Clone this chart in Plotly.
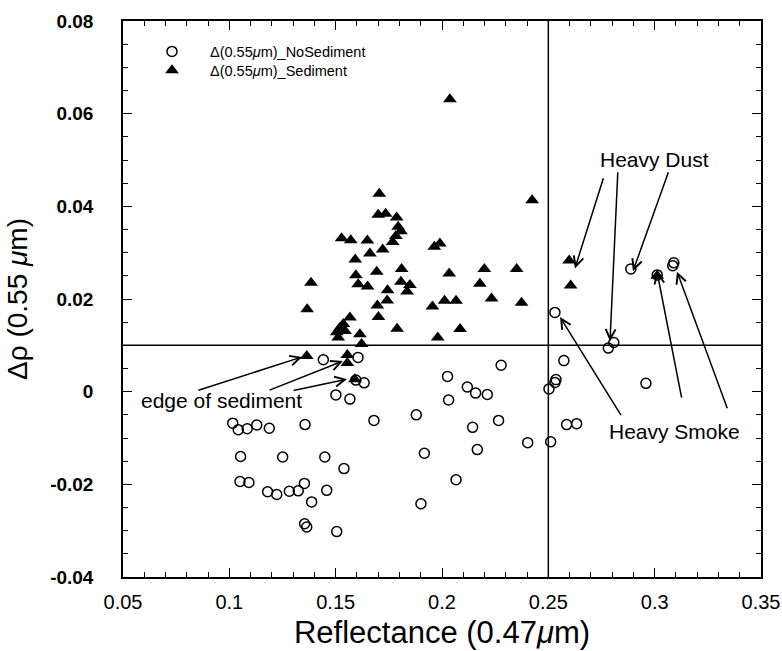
import plotly.graph_objects as go

# ---- data ----
no_sed_x = [0.2888, 0.3090, 0.3085, 0.2531, 0.2782, 0.2808, 0.2573, 0.2536, 0.2531, 0.2503,
            0.2959, 0.2586, 0.2633, 0.2511, 0.2403, 0.2278, 0.2026, 0.2119, 0.2158, 0.2213,
            0.2031, 0.1879, 0.2266, 0.2144, 0.2166, 0.1917, 0.2066, 0.1901, 0.1605, 0.1634,
            0.1501, 0.1567, 0.1680, 0.1539, 0.1442, 0.1016, 0.1042, 0.1084, 0.1129, 0.1188,
            0.1356, 0.1053, 0.1251, 0.1449, 0.1050, 0.1092, 0.1180, 0.1223, 0.1282, 0.1324,
            0.1353, 0.1458, 0.1387, 0.1354, 0.1364, 0.1505, 0.3012, 0.1595]
no_sed_y = [0.0265, 0.0278, 0.0272, 0.0171, 0.0094, 0.0106, 0.0067, 0.0026, 0.0020, 0.0006,
            0.0018, -0.0071, -0.0069, -0.0108, -0.0110, 0.0057, 0.0033, 0.0010, -0.0003, -0.0006,
            -0.0018, -0.0050, -0.0062, -0.0077, -0.0125, -0.0133, -0.0190, -0.0242, 0.0074, 0.0019,
            -0.0007, -0.0016, -0.0062, -0.0166, 0.0069, -0.0068, -0.0082, -0.0080, -0.0072, -0.0079,
            -0.0071, -0.0140, -0.0141, -0.0141, -0.0194, -0.0196, -0.0216, -0.0222, -0.0215, -0.0214,
            -0.0198, -0.0213, -0.0238, -0.0285, -0.0292, -0.0302, 0.0252, 0.0025]

sed_x = [0.2037, 0.2424, 0.1705, 0.1700, 0.1735, 0.1787, 0.1794, 0.1807, 0.1783, 0.1768,
         0.1721, 0.1528, 0.1571, 0.1649, 0.1661, 0.1592, 0.1384, 0.1693, 0.1595, 0.1810,
         0.1606, 0.1650, 0.1807, 0.1849, 0.1836, 0.1744, 0.1742, 0.1696, 0.1701, 0.1366,
         0.1789, 0.1567, 0.1536, 0.1520, 0.1505, 0.1544, 0.1512, 0.1614, 0.1622, 0.1964,
         0.1990, 0.2034, 0.2199, 0.2351, 0.2178, 0.2012, 0.2066, 0.1955, 0.2233, 0.2374,
         0.2085, 0.1980, 0.2598, 0.2605, 0.3012, 0.1364, 0.1555, 0.1555, 0.1590]
sed_y = [0.0631, 0.0413, 0.0427, 0.0382, 0.0384, 0.0376, 0.0356, 0.0346, 0.0336, 0.0323,
         0.0307, 0.0331, 0.0327, 0.0326, 0.0298, 0.0285, 0.0235, 0.0259, 0.0251, 0.0265,
         0.0232, 0.0227, 0.0237, 0.0230, 0.0216, 0.0219, 0.0197, 0.0186, 0.0161, 0.0178,
         0.0136, 0.0160, 0.0146, 0.0138, 0.0128, 0.0131, 0.0117, 0.0124, 0.0103, 0.0313,
         0.0320, 0.0255, 0.0265, 0.0265, 0.0233, 0.0196, 0.0196, 0.0184, 0.0201, 0.0192,
         0.0135, 0.0117, 0.0283, 0.0229, 0.0250, 0.0077, 0.0079, 0.0062, 0.0027]

x_range = [0.05, 0.35]
y_range = [-0.04, 0.08]
x_ticks = [0.05, 0.1, 0.15, 0.2, 0.25, 0.3, 0.35]
x_tick_text = ["0.05", "0.1", "0.15", "0.2", "0.25", "0.3", "0.35"]
y_ticks = [-0.04, -0.02, 0, 0.02, 0.04, 0.06, 0.08]
y_tick_text = ["-0.04", "-0.02", "0", "0.02", "0.04", "0.06", "0.08"]
x_minor_step = 0.01
y_minor_step = 0.005

ref_x = 0.25
ref_y = 0.01

# annotation definitions: (label, label_x, label_y, [(head_x, head_y, tail_x, tail_y), ...])
annots = [
    ("Heavy Dust", 0.3000, 0.0502,
     [(0.2625, 0.0266, 0.2761, 0.0464),
      (0.2790, 0.0109, 0.2827, 0.0477),
      (0.2898, 0.0260, 0.3067, 0.0477)]),
    ("Heavy Smoke", 0.3095, -0.0085,
     [(0.2555, 0.0161, 0.2846, -0.0054),
      (0.3011, 0.0259, 0.3128, -0.0016),
      (0.3105, 0.0259, 0.3344, -0.0039)]),
    ("edge of sediment", 0.0965, -0.0018,
     [(0.1342, 0.0075, 0.0848, 0.0002),
      (0.1534, 0.0066, 0.1182, 0.0002),
      (0.1553, 0.0027, 0.1295, 0.0002)]),
]

FONT = "Liberation Sans, Arial, Helvetica, sans-serif"

fig = go.Figure()
fig.add_trace(go.Scatter(
    x=no_sed_x, y=no_sed_y, mode="markers",
    name="Δ(0.55<i>μ</i>m)_NoSediment", legend="legend",
    marker=dict(symbol="circle-open", size=10, color="black", line=dict(width=1.5, color="black")),
))
fig.add_trace(go.Scatter(
    x=sed_x, y=sed_y, mode="markers",
    name="Δ(0.55<i>μ</i>m)_Sediment", legend="legend2",
    marker=dict(symbol="triangle-up", size=12, color="black", line=dict(width=0)),
))

fig.add_vline(x=ref_x, line=dict(color="black", width=1.5))
fig.add_hline(y=ref_y, line=dict(color="black", width=1.5))

for label, lx, ly, arrows in annots:
    fig.add_annotation(x=lx, y=ly, xref="x", yref="y", text=label, showarrow=False,
                       font=dict(family=FONT, size=21, color="black"))
    for hx, hy, tx, ty in arrows:
        fig.add_annotation(x=hx, y=hy, ax=tx, ay=ty, xref="x", yref="y", axref="x", ayref="y",
                           text="", showarrow=True, arrowhead=5, arrowsize=1.3, arrowwidth=1.5,
                           arrowcolor="black", standoff=0, startstandoff=0)

# main axes: labels, titles, frame and inside ticks
fig.update_layout(
    xaxis=dict(
        range=x_range, tickmode="array", tickvals=x_ticks, ticktext=x_tick_text,
        showline=True, linecolor="black", linewidth=1.5, mirror="ticks",
        ticks="inside", ticklen=9, tickwidth=1, tickcolor="black",
        minor=dict(dtick=x_minor_step, tick0=x_range[0], ticks="inside", ticklen=5,
                   tickcolor="black", tickwidth=1),
        showgrid=False, zeroline=False, automargin=False,
        tickfont=dict(family=FONT, size=20, color="black"),
        ticklabelstandoff=6,
        title=dict(text="Reflectance (0.47<i>μ</i>m)", font=dict(family=FONT, size=31, color="black"),
                   standoff=10),
    ),
    yaxis=dict(
        range=y_range, tickmode="array", tickvals=y_ticks,
        ticktext=["<b>%s</b>" % t for t in y_tick_text],
        showline=True, linecolor="black", linewidth=1.5, mirror="ticks",
        ticks="inside", ticklen=9, tickwidth=1, tickcolor="black",
        minor=dict(dtick=y_minor_step, tick0=0, ticks="inside", ticklen=5,
                   tickcolor="black", tickwidth=1),
        showgrid=False, zeroline=False, automargin=False,
        tickfont=dict(family=FONT, size=19, color="black"),
        ticklabelstandoff=24,
        title=dict(text="Δρ (0.55 <i>μ</i>m)", font=dict(family=FONT, size=28, color="black"),
                   standoff=14),
    ),
)

# overlay axes whose outward ticks point into the plot frame (inside tick marks on all 4 sides)
def tick_axis(rng, vals, step, side, pos, over):
    return dict(range=rng, overlaying=over, anchor="free", position=pos, side=side,
                tickmode="array", tickvals=vals, ticks="outside", ticklen=9, tickwidth=1,
                tickcolor="black", showticklabels=False, showline=False, showgrid=False,
                zeroline=False, automargin=False, fixedrange=True,
                minor=dict(dtick=step, tick0=rng[0], ticks="outside", ticklen=5,
                           tickcolor="black", tickwidth=1, showgrid=False))

fig.update_layout(
    xaxis2=tick_axis(x_range, x_ticks, x_minor_step, "top", 0, "x"),
    xaxis3=tick_axis(x_range, x_ticks, x_minor_step, "bottom", 1, "x"),
    yaxis2=tick_axis(y_range, y_ticks, y_minor_step, "right", 0, "y"),
    yaxis3=tick_axis(y_range, y_ticks, y_minor_step, "left", 1, "y"),
)

legend_common = dict(xanchor="left", yanchor="top", bgcolor="rgba(0,0,0,0)", borderwidth=0,
                     font=dict(family=FONT, size=14.5, color="black"), itemwidth=66)
fig.update_layout(
    template="none",
    width=782, height=651,
    margin=dict(l=123, r=21, t=21, b=74),
    plot_bgcolor="rgba(0,0,0,0)", paper_bgcolor="white",
    showlegend=True,
    legend=dict(x=0.0172, y=0.9740, **legend_common),
    legend2=dict(x=0.0172, y=0.9400, **legend_common),
)

fig.write_html("out.html", config={"displayModeBar": False},
               post_script="document.body.style.margin='0';document.body.style.padding='0';")
